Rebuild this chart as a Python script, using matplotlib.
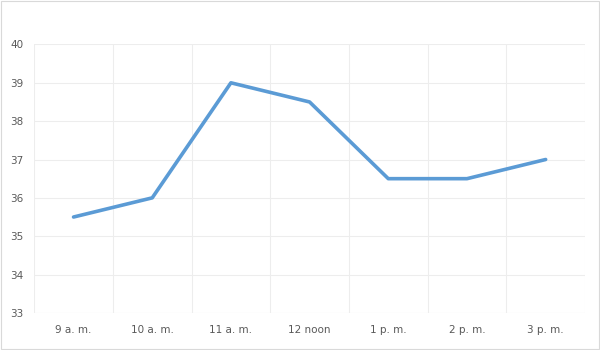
import matplotlib
matplotlib.use("Agg")
import matplotlib.pyplot as plt
from matplotlib.patches import Rectangle

categories = ["9 a. m.", "10 a. m.", "11 a. m.", "12 noon", "1 p. m.", "2 p. m.", "3 p. m."]
values = [35.5, 36, 39, 38.5, 36.5, 36.5, 37]
yticks = [33, 34, 35, 36, 37, 38, 39, 40]

plt.rcParams['font.family'] = ['DejaVu Sans']
fig = plt.figure(figsize=(6, 3.5), dpi=100)
ax = fig.add_axes([0.057, 0.106, 0.918, 0.767])

x = list(range(len(categories)))
ax.plot(x, values, color="#5B9BD5", linewidth=2.6, solid_capstyle="round", solid_joinstyle="round", zorder=3)

ax.set_xlim(-0.5, len(categories) - 0.5)
ax.set_ylim(33, 40)
ax.set_yticks(yticks)
ax.set_xticks(x)
ax.set_xticklabels(categories)
ax.set_xticks([i - 0.5 for i in range(len(categories) + 1)], minor=True)
ax.grid(True, which="major", axis="y", color="#EDEDED", linewidth=0.8)
ax.grid(True, which="minor", axis="x", color="#EDEDED", linewidth=0.8)
ax.tick_params(axis="both", which="both", length=0, labelsize=7.5, labelcolor="#595959")
ax.tick_params(axis="x", pad=9)
ax.tick_params(axis="y", pad=8)
for s in ax.spines.values():
    s.set_visible(False)
ax.axhline(33, color="#EDEDED", linewidth=0.8, zorder=1)

fig.patches.append(Rectangle((0.002, 0.004), 0.996, 0.992, transform=fig.transFigure,
                             fill=False, edgecolor="#D9D9D9", linewidth=0.8))
fig.savefig("out.png", dpi=100)
